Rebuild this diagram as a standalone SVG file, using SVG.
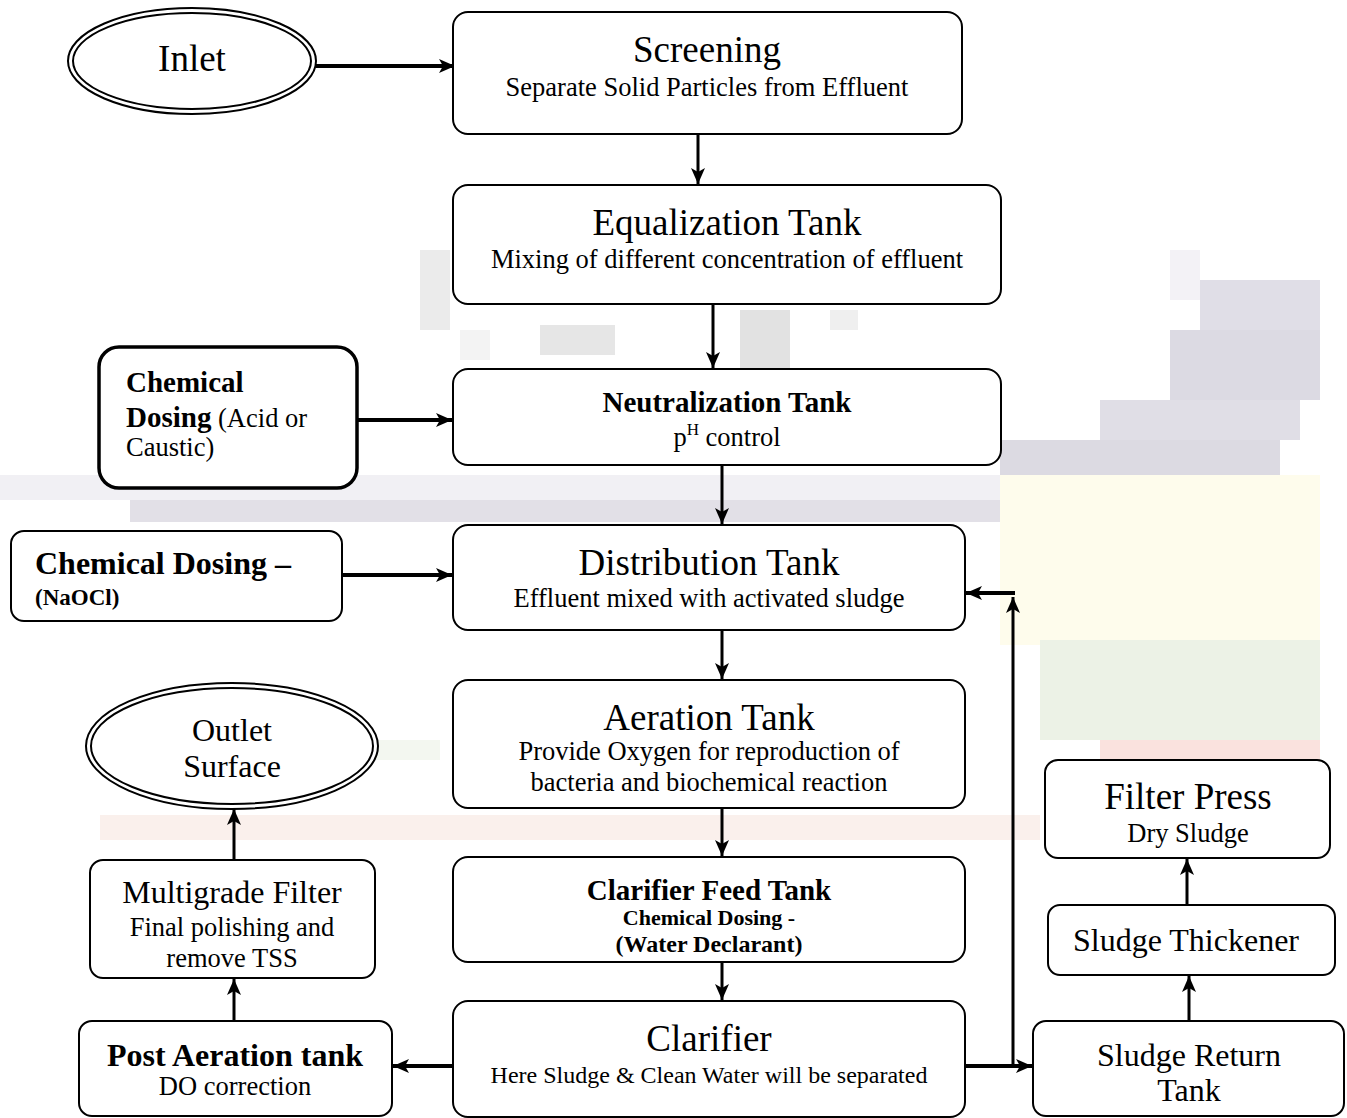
<svg xmlns="http://www.w3.org/2000/svg" width="1347" height="1118" viewBox="0 0 1347 1118">
  <style>
    text { font-family: "Liberation Serif", "Times New Roman", serif; fill: #000; }
    .box { fill: #fff; stroke: #000; stroke-width: 2; }
    .heavy { fill: #fff; stroke: #000; stroke-width: 3.5; }
    .oval { fill: #fff; stroke: #000; stroke-width: 2; }
    .title { font-size: 37px; text-anchor: middle; }
    .sub { font-size: 26.5px; text-anchor: middle; }
    .mid { font-size: 32px; text-anchor: middle; }
    .bold { font-weight: bold; }
    .wire { fill: none; stroke: #000; stroke-width: 3; marker-end: url(#head); }
    .wire.thick { stroke-width: 4; }
  </style>
  <defs>
    <marker id="head" markerUnits="userSpaceOnUse" markerWidth="18" markerHeight="14" refX="16" refY="7" orient="auto">
      <path d="M0,0 L16,7 L0,14 L4,7 z" fill="#000"/>
    </marker>
  </defs>

  <rect width="1347" height="1118" fill="#fff"/>

  <!-- faint mosaic backdrop -->
  <g id="backdrop" stroke="none">
    <rect x="420" y="250" width="30" height="80" fill="#ebebeb"/>
    <rect x="460" y="330" width="30" height="30" fill="#f3f3f3"/>
    <rect x="540" y="325" width="75" height="30" fill="#e6e6e6"/>
    <rect x="740" y="310" width="50" height="60" fill="#e2e2e2"/>
    <rect x="830" y="310" width="28" height="20" fill="#efefef"/>
    <rect x="1170" y="250" width="30" height="50" fill="#f3f2f6"/>
    <rect x="1200" y="280" width="120" height="50" fill="#e0dee7"/>
    <rect x="1170" y="330" width="150" height="70" fill="#dcdae3"/>
    <rect x="1100" y="400" width="200" height="40" fill="#e0dee6"/>
    <rect x="1000" y="440" width="280" height="35" fill="#dcdae2"/>
    <rect x="0" y="475" width="1100" height="25" fill="#f1f0f4"/>
    <rect x="130" y="500" width="970" height="22" fill="#e2e0e7"/>
    <rect x="1000" y="475" width="320" height="170" fill="#fefcec"/>
    <rect x="1040" y="640" width="280" height="100" fill="#ecf2e6"/>
    <rect x="300" y="740" width="140" height="20" fill="#f3f7f0"/>
    <rect x="1100" y="740" width="220" height="60" fill="#fae2de"/>
    <rect x="100" y="815" width="940" height="25" fill="#faf0ec"/>
  </g>

  <!-- connectors -->
  <g id="connectors">
    <path class="wire thick" d="M316,66 H455"/>
    <path class="wire" d="M698,135 V184"/>
    <path class="wire" d="M713,305 V368"/>
    <path class="wire thick" d="M358,420 H452"/>
    <path class="wire" d="M722,466 V524"/>
    <path class="wire thick" d="M342,575 H452"/>
    <path class="wire" d="M722,631 V679"/>
    <path class="wire" d="M722,809 V856"/>
    <path class="wire" d="M722,963 V1000"/>
    <path class="wire thick" d="M453,1066 H393"/>
    <path class="wire" d="M234,1021 V979"/>
    <path class="wire" d="M234,859 V809"/>
    <path class="wire thick" d="M965,1066 H1032"/>
    <path class="wire" d="M1013,1066 V597"/>
    <path class="wire thick" d="M1015,593 H966"/>
    <path class="wire" d="M1189,1020 V976"/>
    <path class="wire" d="M1187,904 V859"/>
  </g>

  <g id="inlet">
    <ellipse class="oval" cx="192" cy="61" rx="124" ry="53"/>
    <ellipse class="oval" cx="192" cy="61" rx="119" ry="48" stroke-width="1.5"/>
    <text class="title" x="192" y="71">Inlet</text>
  </g>

  <g id="screening">
    <rect class="box" x="453" y="12" width="509" height="122" rx="15"/>
    <text class="title" x="707" y="62">Screening</text>
    <text class="sub" x="707" y="96">Separate Solid Particles from Effluent</text>
  </g>

  <g id="equalization">
    <rect class="box" x="453" y="185" width="548" height="119" rx="15"/>
    <text class="title" x="727" y="235">Equalization Tank</text>
    <text class="sub" x="727" y="268">Mixing of different concentration of effluent</text>
  </g>

  <g id="neutralization">
    <rect class="box" x="453" y="369" width="548" height="96" rx="15"/>
    <text class="bold" x="727" y="412" font-size="29" text-anchor="middle">Neutralization Tank</text>
    <text x="727" y="446" font-size="26.5" text-anchor="middle">p<tspan dy="-11" font-size="17">H</tspan><tspan dy="11"> control</tspan></text>
  </g>

  <g id="dosing-acid">
    <rect class="heavy" x="99" y="347" width="258" height="141" rx="20"/>
    <text x="126" y="392" font-size="29" class="bold">Chemical</text>
    <text x="126" y="427" font-size="26.5"><tspan class="bold" font-size="29">Dosing</tspan> (Acid or</text>
    <text x="126" y="456" font-size="26.5">Caustic)</text>
  </g>

  <g id="distribution">
    <rect class="box" x="453" y="525" width="512" height="105" rx="15"/>
    <text class="title" x="709" y="575">Distribution Tank</text>
    <text class="sub" x="709" y="607">Effluent mixed with activated sludge</text>
  </g>

  <g id="dosing-naocl">
    <rect class="box" x="11" y="531" width="331" height="90" rx="13"/>
    <text x="35" y="574" font-size="32" class="bold">Chemical Dosing –</text>
    <text x="35" y="605" font-size="23" class="bold">(NaOCl)</text>
  </g>

  <g id="aeration">
    <rect class="box" x="453" y="680" width="512" height="128" rx="15"/>
    <text class="title" x="709" y="730">Aeration Tank</text>
    <text class="sub" x="709" y="760">Provide Oxygen for reproduction of</text>
    <text class="sub" x="709" y="791">bacteria and biochemical reaction</text>
  </g>

  <g id="clarifier-feed">
    <rect class="box" x="453" y="857" width="512" height="105" rx="15"/>
    <text class="bold" x="709" y="900" font-size="29" text-anchor="middle">Clarifier Feed Tank</text>
    <text class="bold" x="709" y="925" font-size="22" text-anchor="middle">Chemical Dosing -</text>
    <text class="bold" x="709" y="952" font-size="24" text-anchor="middle">(Water Declarant)</text>
  </g>

  <g id="clarifier">
    <rect class="box" x="453" y="1001" width="512" height="116" rx="15"/>
    <text class="title" x="709" y="1051">Clarifier</text>
    <text x="709" y="1083" font-size="24" text-anchor="middle">Here Sludge &amp; Clean Water will be separated</text>
  </g>

  <g id="post-aeration">
    <rect class="box" x="79" y="1021" width="313" height="95" rx="13"/>
    <text class="bold" x="235" y="1066" font-size="32" text-anchor="middle">Post Aeration tank</text>
    <text class="sub" x="235" y="1095">DO correction</text>
  </g>

  <g id="multigrade">
    <rect class="box" x="90" y="860" width="285" height="118" rx="13"/>
    <text class="mid" x="232" y="903">Multigrade Filter</text>
    <text class="sub" x="232" y="936">Final polishing and</text>
    <text class="sub" x="232" y="967">remove TSS</text>
  </g>

  <g id="outlet">
    <ellipse class="oval" cx="232" cy="746" rx="146" ry="63"/>
    <ellipse class="oval" cx="232" cy="746" rx="141" ry="58" stroke-width="1.5"/>
    <text class="mid" x="232" y="741">Outlet</text>
    <text class="mid" x="232" y="777">Surface</text>
  </g>

  <g id="sludge-return">
    <rect class="box" x="1033" y="1021" width="311" height="95" rx="13"/>
    <text class="mid" x="1189" y="1066">Sludge Return</text>
    <text class="mid" x="1189" y="1101">Tank</text>
  </g>

  <g id="thickener">
    <rect class="box" x="1048" y="905" width="287" height="70" rx="12"/>
    <text class="mid" x="1186" y="951">Sludge Thickener</text>
  </g>

  <g id="filter-press">
    <rect class="box" x="1045" y="760" width="285" height="98" rx="13"/>
    <text class="title" x="1188" y="809">Filter Press</text>
    <text class="sub" x="1188" y="842">Dry Sludge</text>
  </g>
</svg>
